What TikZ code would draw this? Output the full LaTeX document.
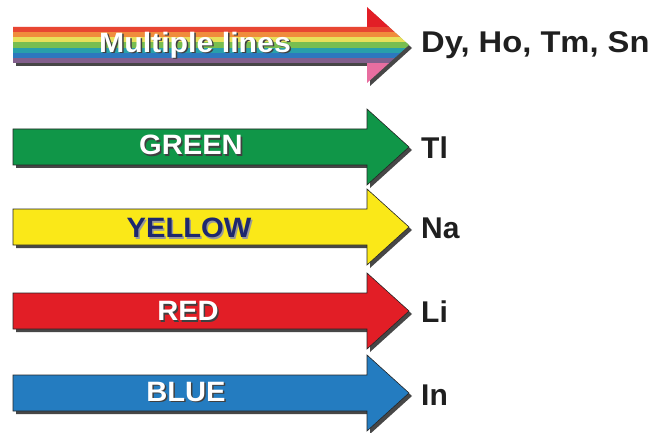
\documentclass[tikz,border=0pt]{standalone}
\usepackage{fontspec}
\setmainfont{Liberation Sans}
\definecolor{cgreen}{RGB}{16,150,72}
\definecolor{cyellow}{RGB}{250,232,24}
\definecolor{cred}{RGB}{226,30,38}
\definecolor{cblue}{RGB}{36,124,192}
\definecolor{cnavy}{RGB}{30,40,110}
\definecolor{s1}{RGB}{232,70,50}
\definecolor{s2}{RGB}{240,140,60}
\definecolor{s3}{RGB}{232,224,90}
\definecolor{s4}{RGB}{120,190,80}
\definecolor{s5}{RGB}{40,160,170}
\definecolor{s6}{RGB}{45,120,190}
\definecolor{s7}{RGB}{130,95,140}
\definecolor{cpink}{RGB}{232,110,160}
\begin{document}
\begin{tikzpicture}[x=1pt,y=-1pt]
\useasboundingbox (0,0) rectangle (656,433);
\tikzset{
  shadowfill/.style={fill=black!72, draw=none},
  outlinestyle/.style={draw=black!85, line width=0.6pt, line join=miter},
  intext/.style={font=\fontsize{28}{28}\selectfont\bfseries, inner sep=0pt, xscale=1.04},
  whitetext/.style={intext, text=white},
  shadetext/.style={intext, text=black!75},
  elem/.style={font=\fontsize{30}{30}\selectfont\bfseries, text=black!88, inner sep=0pt, anchor=base west},
  pics/bigarrow/.style={code={
    \fill[shadowfill] (3,-15) -- (357,-15) -- (357,-35) -- (399,3) -- (357,41) -- (357,21) -- (3,21) -- cycle;
    \fill[#1] (0,-18) -- (354,-18) -- (354,-38) -- (396,0) -- (354,38) -- (354,18) -- (0,18) -- cycle;
    \draw[outlinestyle] (0,-18) -- (354,-18) -- (354,-38) -- (396,0) -- (354,38) -- (354,18) -- (0,18) -- cycle;
  }},
  pics/rainbowarrow/.style={code={
    \fill[shadowfill] (3,-15) -- (357,-15) -- (357,-35) -- (399,3) -- (357,41) -- (357,21) -- (3,21) -- cycle;
    \begin{scope}
      \clip (0,-18) -- (354,-18) -- (354,-38) -- (396,0) -- (354,38) -- (354,18) -- (0,18) -- cycle;
      \fill[cred] (0,-40) rectangle (400,-18);
      \fill[s1] (0,-18) rectangle (400,-12.86);
      \fill[s2] (0,-12.86) rectangle (400,-7.71);
      \fill[s3] (0,-7.71) rectangle (400,-2.57);
      \fill[s4] (0,-2.57) rectangle (400,2.57);
      \fill[s5] (0,2.57) rectangle (400,7.71);
      \fill[s6] (0,7.71) rectangle (400,12.86);
      \fill[s7] (0,12.86) rectangle (400,18);
      \fill[cpink] (0,18) rectangle (400,40);
    \end{scope}
  }}
}
% arrows
\pic (amulti) at (13,45) {rainbowarrow};
\pic (agreen) at (13,147) {bigarrow=cgreen};
\pic (ayellow) at (13,227) {bigarrow=cyellow};
\pic (ared) at (13,311) {bigarrow=cred};
\pic (ablue) at (13,393) {bigarrow=cblue};
% texts in arrows
\node[shadetext, xscale=1.04] (tmultis) at (196.5,46.5) {Multiple lines};
\node[whitetext, xscale=1.04] (tmulti) at (195,45) {Multiple lines};
\node[shadetext] (tgreens) at (192.5,146.5) {GREEN};
\node[whitetext] (tgreen) at (191,145) {GREEN};
\node[intext, text=black!40] (tyellows) at (190.5,229.5) {YELLOW};
\node[intext, text=cnavy] (tyellow) at (189,228) {YELLOW};
\node[shadetext] (treds) at (189.5,312.5) {RED};
\node[whitetext] (tred) at (188,311) {RED};
\node[shadetext] (tblues) at (187.5,393.5) {BLUE};
\node[whitetext] (tblue) at (186,392) {BLUE};
% element labels
\node[elem, xscale=1.09] (ldy) at (421,53) {Dy, Ho, Tm, Sn};
\node[elem] (ltl) at (421,158) {Tl};
\node[elem] (lna) at (421,238) {Na};
\node[elem] (lli) at (421,322) {Li};
\node[elem] (lin) at (421,405) {In};
\end{tikzpicture}
\end{document}
